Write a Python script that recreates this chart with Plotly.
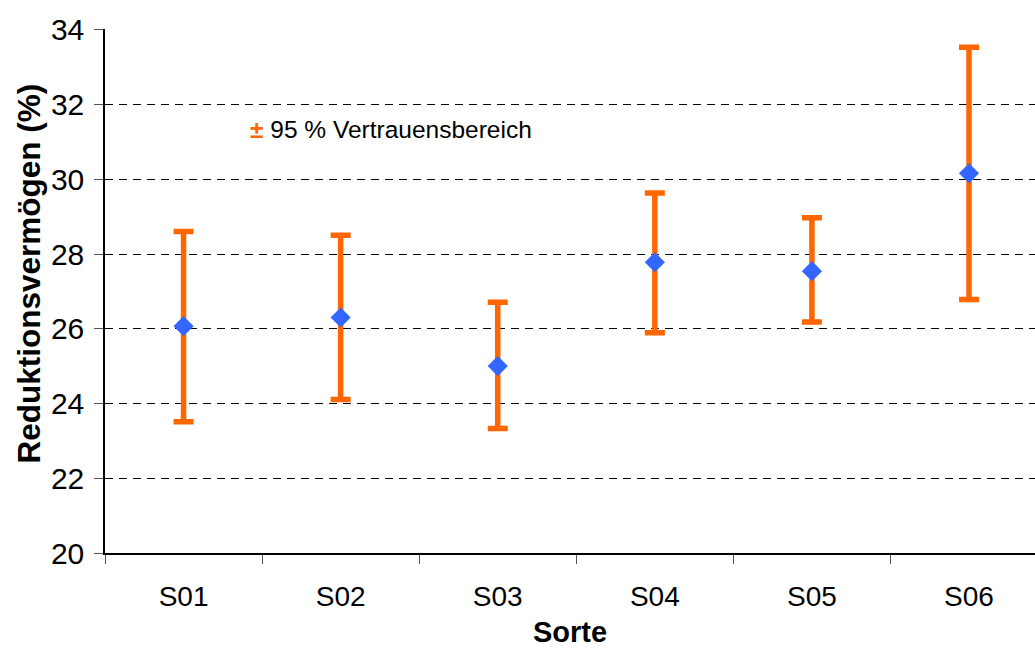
import plotly.graph_objects as go

categories = ["S01", "S02", "S03", "S04", "S05", "S06"]
means = [26.07, 26.30, 25.00, 27.78, 27.54, 30.16]
upper = [28.60, 28.50, 26.71, 29.63, 28.97, 33.53]
lower = [23.51, 24.11, 23.33, 25.89, 26.18, 26.78]
y_ticks = [20, 22, 24, 26, 28, 30, 32, 34]

err_plus = [u - m for u, m in zip(upper, means)]
err_minus = [m - l for m, l in zip(means, lower)]

W, H = 1035, 648
ML, MR, MT, MB = 105, 0, 29, 95
PW, PH = W - ML - MR, H - MT - MB

fig = go.Figure()
fig.add_trace(go.Scatter(
    x=categories, y=means, mode="markers",
    marker=dict(symbol="diamond", size=15.5, color="#3366FF"),
    error_y=dict(type="data", symmetric=False, array=err_plus, arrayminus=err_minus,
                 color="#FF6600", thickness=5.5, width=10),
    showlegend=False,
))

font_family = "Liberation Sans, Arial, sans-serif"
fig.update_layout(
    width=W, height=H,
    margin=dict(l=ML, r=MR, t=MT, b=MB),
    paper_bgcolor="white", plot_bgcolor="white",
    font=dict(family=font_family, color="black", size=24),
    xaxis=dict(
        type="category", range=[-0.5, 5.42],
        showline=True, linecolor="black", linewidth=1.5,
        ticks="outside", tickson="boundaries", ticklen=9, tickcolor="#555",
        showgrid=False, zeroline=False,
        tickfont=dict(size=28), ticklabelstandoff=18,
        title=dict(text="<b>Sorte</b>", font=dict(size=29), standoff=15),
    ),
    yaxis=dict(
        range=[20, 34.02], tickvals=y_ticks,
        showline=True, linecolor="black", linewidth=1.5,
        ticks="outside", ticklen=9, tickcolor="#555",
        showgrid=True, gridcolor="black", gridwidth=1, griddash="8px,6px",
        zeroline=False,
        tickfont=dict(size=30), ticklabelstandoff=4,
    ),
    annotations=[
        dict(
            x=0.41, y=31.33, xref="x", yref="y", xanchor="left", yanchor="middle",
            text="<span style='color:#FF6600'><b>±</b></span> 95 % Vertrauensbereich",
            showarrow=False, font=dict(size=24.5, color="black"),
        ),
        dict(
            x=(28 - ML) / PW, y=(H - MB - 273.5) / PH, xref="paper", yref="paper",
            xanchor="center", yanchor="middle", textangle=-90,
            text="<b>Reduktionsvermögen (%)</b>", showarrow=False,
            font=dict(size=31.5, color="black"),
        ),
    ],
)

fig.write_html("out.html")
